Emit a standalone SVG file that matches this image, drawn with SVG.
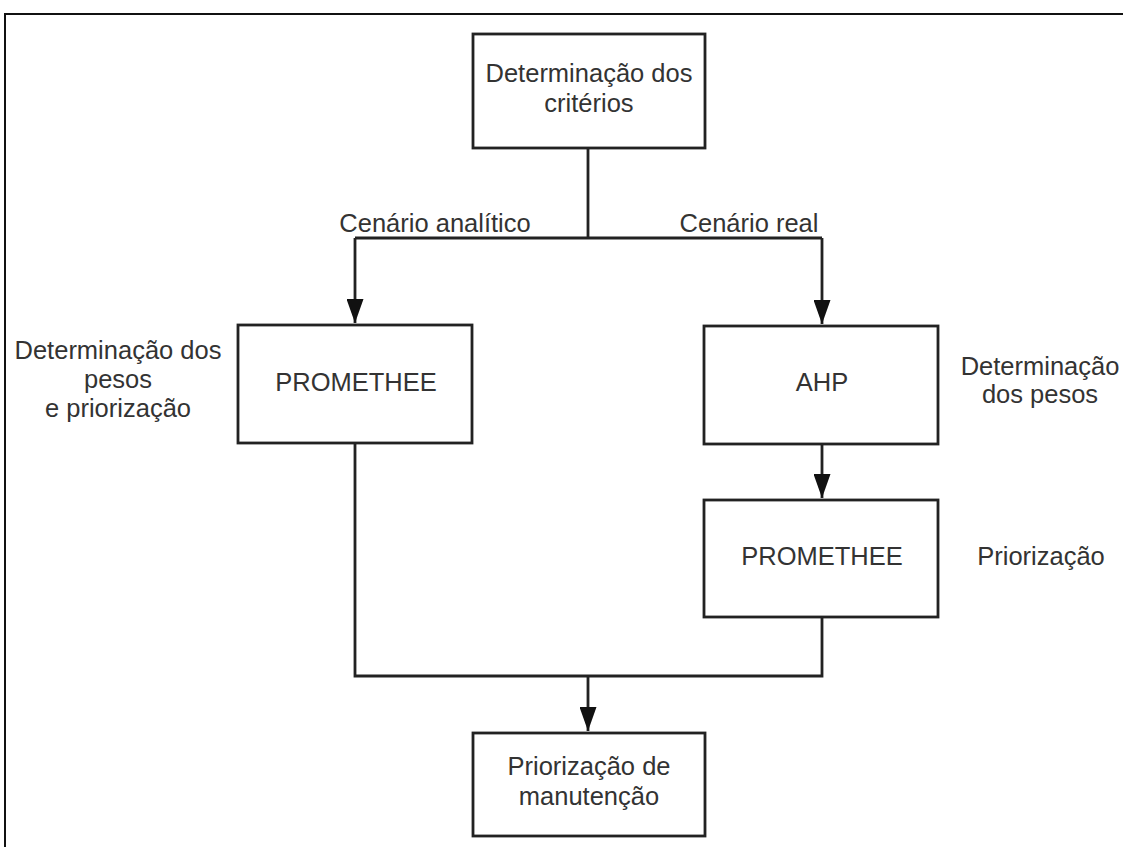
<svg xmlns="http://www.w3.org/2000/svg" width="1123" height="847" viewBox="0 0 1123 847">
<style>
.box{fill:#fff;stroke:#222;stroke-width:2.8}
.ln{fill:none;stroke:#222;stroke-width:2.8}
text{font-family:"Liberation Sans",Arial,sans-serif;font-size:25.5px;fill:#333;text-anchor:middle}
</style>
<defs>
<marker id="ah" viewBox="0 0 24 17" refX="24" refY="8.5" markerWidth="24" markerHeight="17" markerUnits="userSpaceOnUse" orient="auto">
<path d="M0,0 L24,8.5 L0,17 Z" fill="#111"/>
</marker>
</defs>
<rect width="1123" height="847" fill="#fff"/>
<path d="M5,847 V14 H1123" fill="none" stroke="#111" stroke-width="2"/>
<g id="connectors">
<path class="ln" d="M588,148 V238"/>
<path class="ln" d="M355,238 H822"/>
<path class="ln" d="M355,238 V323" marker-end="url(#ah)"/>
<path class="ln" d="M822,238 V324" marker-end="url(#ah)"/>
<path class="ln" d="M822,444 V498" marker-end="url(#ah)"/>
<path class="ln" d="M355,443 V676 H822 V617"/>
<path class="ln" d="M588,676 V731" marker-end="url(#ah)"/>
</g>
<g id="n-criterios">
<rect class="box" x="473" y="34" width="232" height="114"/>
<text x="589" y="82">Determinação dos</text>
<text x="589" y="112">critérios</text>
</g>
<g id="n-promethee1">
<rect class="box" x="238" y="325" width="234" height="118"/>
<text x="356" y="391">PROMETHEE</text>
</g>
<g id="n-ahp">
<rect class="box" x="704" y="326" width="234" height="118"/>
<text x="822" y="391">AHP</text>
</g>
<g id="n-promethee2">
<rect class="box" x="704" y="500" width="234" height="117"/>
<text x="822" y="565">PROMETHEE</text>
</g>
<g id="n-manutencao">
<rect class="box" x="473" y="733" width="232" height="103"/>
<text x="589" y="775">Priorização de</text>
<text x="589" y="805">manutenção</text>
</g>
<g id="labels">
<text x="435" y="232">Cenário analítico</text>
<text x="749" y="232">Cenário real</text>
<text x="118" y="359">Determinação dos</text>
<text x="118" y="388">pesos</text>
<text x="118" y="417">e priorização</text>
<text x="1040" y="375">Determinação</text>
<text x="1040" y="403">dos pesos</text>
<text x="1041" y="565">Priorização</text>
</g>
</svg>
